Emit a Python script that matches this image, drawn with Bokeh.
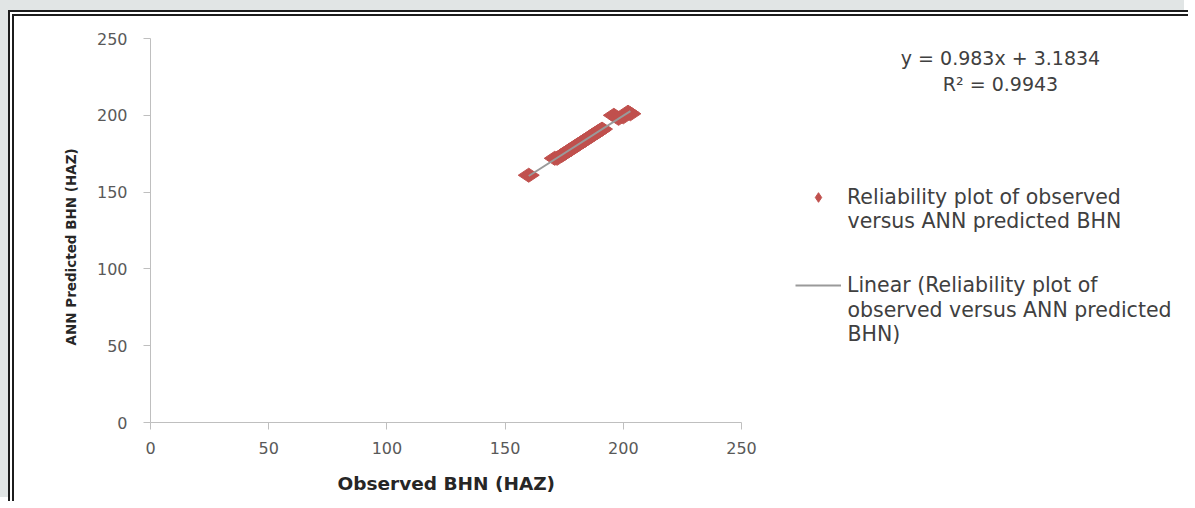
import math
from bokeh.plotting import figure
from bokeh.models import Range1d, FixedTicker, Legend, LegendItem, Label, Title
from bokeh.embed import file_html
from bokeh.resources import INLINE

# ---- data ----
observed = [160, 171, 172, 174, 175, 177, 178, 180, 181, 183, 184, 186, 187, 189, 190, 191,
            196, 198, 200, 202, 203]
predicted = [161, 172, 172, 174, 175, 177, 178, 180, 181, 183, 184, 186, 187, 189, 190, 191,
             200, 198, 199, 202, 201]
slope = 0.983
intercept = 3.1834
r_squared = 0.9943
ticks = [0, 50, 100, 150, 200, 250]
axis_min, axis_max = 0, 250

series_lines = ["Reliability plot of observed", "versus ANN predicted BHN"]
trend_lines = ["Linear (Reliability plot of", "observed versus ANN predicted", "BHN)"]
x_title = "Observed BHN (HAZ)"
y_title = "ANN Predicted BHN (HAZ)"

FONT = "DejaVu Sans"
MARKER = "#c0504d"
TEXT = "#404040"

# ---- layout (pixels) ----
W, H = 1180, 491
LEFT, RIGHT, TOP = 136, 10, 22
AXIS_PX = 591          # pixel length of the 0..250 x axis
FRAME_H = 384
frame_w = W - LEFT - RIGHT
bottom = H - TOP - FRAME_H
x_end = axis_max * frame_w / AXIS_PX   # frame wider than the axis; axis bounded to 0..250

p = figure(width=W, height=H, output_backend="svg", toolbar_location=None,
           x_range=Range1d(axis_min, x_end), y_range=Range1d(axis_min, axis_max),
           min_border_left=LEFT, min_border_right=RIGHT, min_border_top=TOP,
           min_border_bottom=bottom)
p.styles = {"margin-left": "8px", "margin-top": "10px",
            "border-left": "6px double #1c1c1c", "border-top": "6px double #1c1c1c",
            "box-shadow": "-8px -8px 0 4px #e1e5e5"}
p.background_fill_color = "white"
p.border_fill_color = "white"
p.outline_line_color = None
p.xgrid.visible = False
p.ygrid.visible = False

for ax in (p.xaxis[0], p.yaxis[0]):
    ax.ticker = FixedTicker(ticks=ticks)
    ax.bounds = (axis_min, axis_max)
    ax.axis_line_color = "#bfbfbf"
    ax.major_tick_line_color = "#bfbfbf"
    ax.major_tick_out = 7
    ax.major_tick_in = 0
    ax.minor_tick_line_color = None
    ax.major_label_text_font = FONT
    ax.major_label_text_font_size = "16px"
    ax.major_label_text_color = "#595959"

p.xaxis.major_label_standoff = 12
p.yaxis.major_label_standoff = 16

xt = Title(text=x_title, align="left", offset=187, standoff=28,
           text_font=FONT, text_font_size="18.5px", text_font_style="bold",
           text_color="#262626")
p.add_layout(xt, "below")

yt = Title(text=y_title, align="left", offset=77, standoff=30,
           text_font=FONT, text_font_size="13.5px", text_font_style="bold",
           text_color="#262626")
p.add_layout(yt, "left")

pts = p.scatter(observed, predicted, marker="diamond", size=21, angle=math.pi / 2,
                fill_color=MARKER, line_color=MARKER)

x0, x1 = min(observed), max(observed)
trend = p.line([x0, x1], [slope * x0 + intercept, slope * x1 + intercept],
               line_color="#9a9a9a", line_width=2)

legend = Legend(items=[LegendItem(label=series_lines[0], renderers=[pts]),
                       LegendItem(label=trend_lines[0], renderers=[trend])],
                location=(645, 125), orientation="vertical")
legend.border_line_color = None
legend.background_fill_alpha = 0
legend.padding = 0
legend.margin = 0
legend.spacing = 64
legend.glyph_width = 46
legend.glyph_height = 24
legend.label_standoff = 6
legend.label_height = 24
legend.label_text_font = FONT
legend.label_text_font_size = "20.5px"
legend.label_text_color = TEXT
legend.label_text_line_height = 1.2
p.add_layout(legend, "center")

# continuation lines of the wrapped legend labels
for txt, yy in [(series_lines[1], 202), (trend_lines[1], 113), (trend_lines[2], 89)]:
    p.add_layout(Label(x=697, y=yy, x_units="screen", y_units="screen", text=txt,
                       text_align="left", text_baseline="middle", text_font=FONT,
                       text_font_size="20.5px", text_color=TEXT))

eq1 = Label(x=850, y=365, x_units="screen", y_units="screen",
            text=f"y = {slope}x + {intercept}", text_align="center", text_baseline="middle",
            text_font=FONT, text_font_size="19px", text_color=TEXT)
eq2 = Label(x=850, y=339, x_units="screen", y_units="screen",
            text=f"R² = {r_squared}", text_align="center", text_baseline="middle",
            text_font=FONT, text_font_size="19px", text_color=TEXT)
p.add_layout(eq1)
p.add_layout(eq2)

open("out.html", "w").write(file_html(p, INLINE))
